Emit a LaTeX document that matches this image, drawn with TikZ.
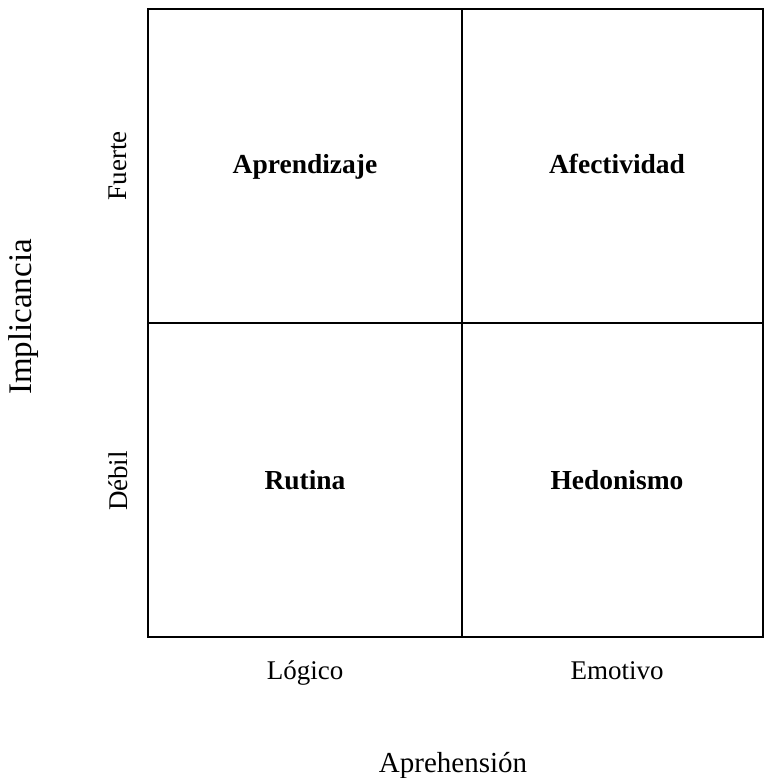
\documentclass[tikz,border=0pt]{standalone}
\usepackage{fontspec}
\setmainfont{Liberation Serif}

\tikzset{
	cell label/.style={font=\fontsize{27.5}{32}\selectfont\bfseries, anchor=base},
	axis label/.style={font=\fontsize{27}{32}\selectfont},
	axis title/.style={font=\fontsize{29}{34}\selectfont}
}

\begin{document}
\begin{tikzpicture}[x=1pt, y=-1pt]
		\useasboundingbox (0,0) rectangle (763,778);
		% grid
		\draw [line width=1.5pt] (148,9) rectangle (763,637);
		\draw [line width=1.5pt] (462,9) -- (462,637);
		\draw [line width=1.5pt] (148,323) -- (763,323);
		% quadrants
		\node [cell label] (aprendizaje) at (305,174) {Aprendizaje};
		\node [cell label] (afectividad) at (617,174) {Afectividad};
		\node [cell label] (rutina) at (305,489) {Rutina};
		\node [cell label] (hedonismo) at (617,489) {Hedonismo};
		% axes
		\node [axis label, rotate=90] (fuerte) at (118,166) {Fuerte};
		\node [axis label, rotate=90] (debil) at (118,481) {Débil};
		\node [axis title, rotate=90, font=\fontsize{33}{38}\selectfont] (implicancia) at (24,317) {Implicancia};
		\node [axis label, anchor=base] (logico) at (305,679) {Lógico};
		\node [axis label, anchor=base] (emotivo) at (617,679) {Emotivo};
		\node [axis title, anchor=base] (aprehension) at (453,772) {Aprehensión};
	\end{tikzpicture}
\end{document}
